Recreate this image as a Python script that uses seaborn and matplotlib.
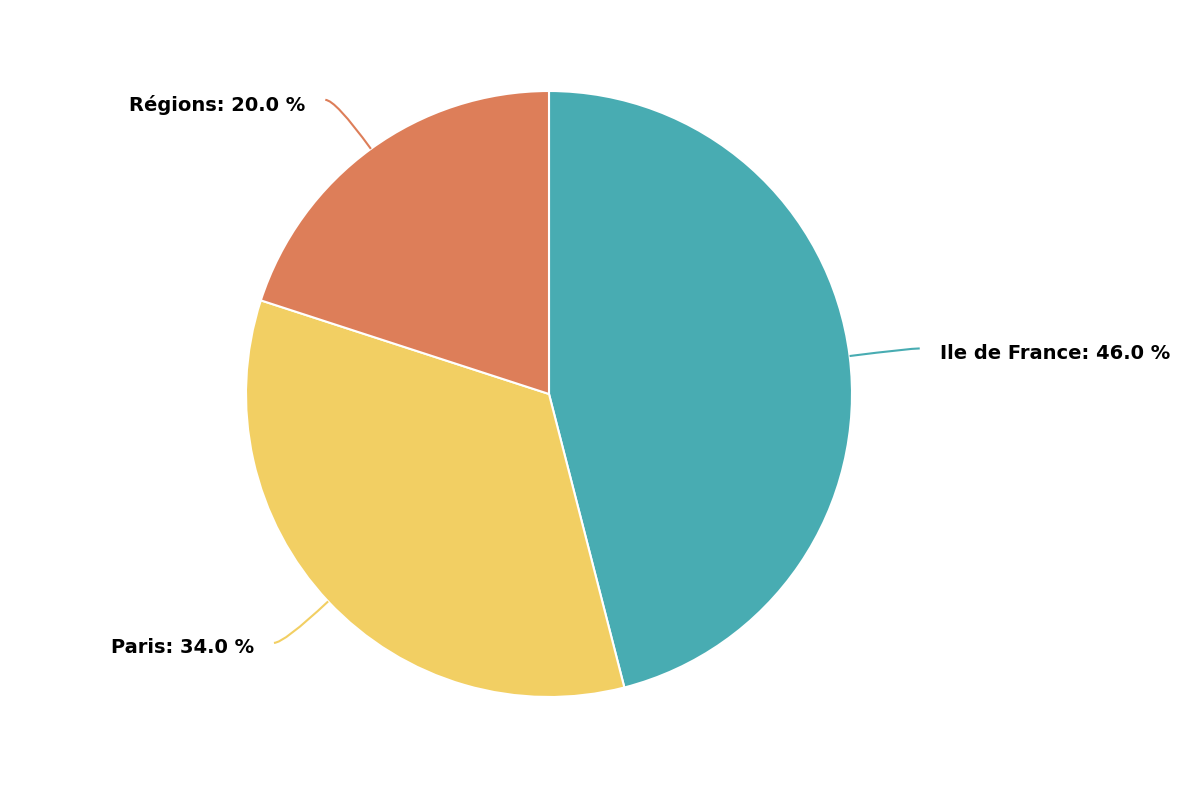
import matplotlib
matplotlib.use("Agg")
import matplotlib.pyplot as plt
import numpy as np
import seaborn as sns
from matplotlib.path import Path
from matplotlib.patches import PathPatch

sns.set_style("white")
plt.rcParams["font.family"] = ["DejaVu Sans"]

# data, drawn clockwise from 12 o'clock
labels = ["Ile de France", "Paris", "Régions"]
shares = [46.0, 34.0, 20.0]
colors = ["#48ACB2", "#F2CF63", "#DD7E59"]

W, H = 1200, 800
CX, CY, R = 549, 800 - 394, 303

fig = plt.figure(figsize=(12, 8), dpi=100)
ax = fig.add_axes([0, 0, 1, 1])
palette = sns.color_palette(colors)

wedges, _ = ax.pie(
    shares,
    colors=palette,
    startangle=90,
    counterclock=False,
    center=(CX, CY),
    radius=R,
    wedgeprops={"edgecolor": "white", "linewidth": 1.5},
    frame=True,
)
ax.set_xlim(0, W)
ax.set_ylim(0, H)
ax.set_aspect("equal")
ax.axis("off")

# connector: radial start, curve into a short horizontal end, then the label
for w, name, val, col in zip(wedges, labels, shares, palette):
    mid = np.deg2rad((w.theta1 + w.theta2) / 2)
    dx, dy = np.cos(mid), np.sin(mid)
    p0 = (CX + R * dx, CY + R * dy)
    elbow = (CX + R * 1.2 * dx, CY + R * 1.2 * dy)
    side = 1 if dx >= 0 else -1
    end = (elbow[0] + 10 * side, elbow[1])
    path = Path([p0, elbow, end], [Path.MOVETO, Path.CURVE3, Path.CURVE3])
    ax.add_patch(PathPatch(path, facecolor="none", edgecolor=col, linewidth=1.5))
    ax.text(
        end[0] + 20 * side,
        end[1] - 5,
        f"{name}: {val:.1f} %",
        ha="left" if side > 0 else "right",
        va="center",
        fontsize=14,
        fontweight="bold",
        color="black",
    )

fig.savefig("out.png", dpi=100)
